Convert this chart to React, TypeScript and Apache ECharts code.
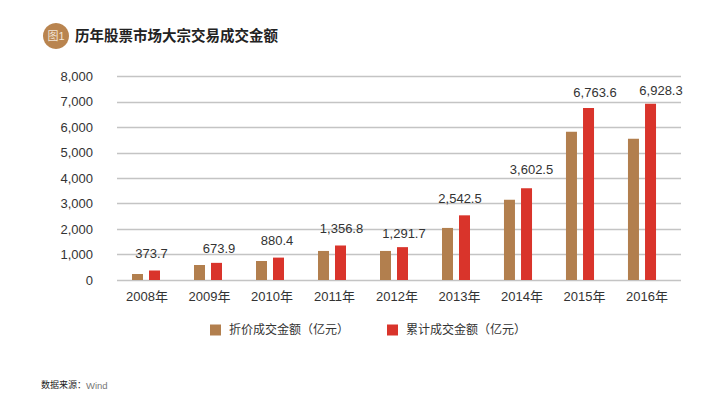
import React, { useEffect, useRef } from "react";
import * as echarts from "echarts";

const categories = ["2008年", "2009年", "2010年", "2011年", "2012年", "2013年", "2014年", "2015年", "2016年"];
const discountNames = "折价成交金额（亿元）";
const totalNames = "累计成交金额（亿元）";
const discountValues = [236, 590, 748, 1142, 1142, 2047, 3150, 5827, 5551];
const totalValues = [373.7, 673.9, 880.4, 1356.8, 1291.7, 2542.5, 3602.5, 6763.6, 6928.3];
const labelShifts = [[-3, -5], [2.5, -2.5], [-1.5, -6], [1, -5], [1.5, -2.5], [-4.5, -5], [5, -7], [6.5, -3.5], [10.5, -2]];

const FONT = "'Liberation Sans', 'Noto Sans CJK SC', sans-serif";
const TEXT = "#333333";
const fmt = (v: number) => v.toLocaleString("en-US", { maximumFractionDigits: 1 });

const hiddenAxis = { show: false };
const valueScale = { type: "value", min: 0, max: 8000, interval: 1000 };

export default function App() {
  const ref = useRef<HTMLDivElement>(null);
  useEffect(() => {
    const chart = echarts.init(ref.current!, undefined, { renderer: "svg" });
    chart.setOption({
      animation: false,
      backgroundColor: "#ffffff",
      textStyle: { fontFamily: FONT },
      grid: [
        { left: 117, top: 76.5, width: 564, height: 203.5 },
        { left: 115, top: 76.5, width: 558, height: 203.5 },
        { left: 115.75, top: 76.5, width: 562.5, height: 203.5 },
      ],
      xAxis: [
        { type: "category", gridIndex: 0, data: categories, ...hiddenAxis },
        { type: "category", gridIndex: 1, data: categories, ...hiddenAxis },
        {
          type: "category",
          gridIndex: 2,
          data: categories,
          axisLine: { show: false },
          axisTick: { show: false },
          axisLabel: { color: TEXT, fontSize: 13, fontFamily: FONT, margin: 10, interval: 0 },
        },
      ],
      yAxis: [
        {
          ...valueScale,
          gridIndex: 0,
          axisLine: { show: false },
          axisTick: { show: false },
          axisLabel: { color: TEXT, fontSize: 13, fontFamily: FONT, margin: 24, formatter: (v: number) => fmt(v) },
          splitLine: { show: true, lineStyle: { color: "#c4c4c4", width: 1.4 } },
        },
        { ...valueScale, gridIndex: 1, ...hiddenAxis },
        { ...valueScale, gridIndex: 2, ...hiddenAxis },
      ],
      legend: {
        left: 210,
        top: 324,
        icon: "rect",
        itemWidth: 11,
        itemHeight: 11,
        itemGap: 38,
        padding: 0,
        textStyle: { color: TEXT, fontSize: 12, fontFamily: FONT, padding: [0, 0, 0, 3] },
        data: [discountNames, totalNames],
      },
      series: [
        {
          name: discountNames,
          type: "bar",
          xAxisIndex: 1,
          yAxisIndex: 1,
          barWidth: 11,
          barGap: "55%",
          itemStyle: { color: "#b27f4e" },
          data: discountValues,
        },
        {
          name: totalNames,
          type: "bar",
          xAxisIndex: 1,
          yAxisIndex: 1,
          barWidth: 11,
          barGap: "55%",
          itemStyle: { color: "#d9342b" },
          data: totalValues.map((value, i) => ({
            value,
            label: {
              show: true,
              position: "top",
              offset: labelShifts[i],
              color: TEXT,
              fontSize: 13,
              fontFamily: FONT,
              formatter: fmt(value),
            },
          })),
        },
      ],
      graphic: [
        { type: "circle", shape: { cx: 56, cy: 36, r: 13 }, style: { fill: "#b9844f" } },
        {
          type: "text",
          x: 56,
          y: 36,
          style: { text: "图1", fill: "#f3e6d8", fontSize: 11, fontFamily: FONT, align: "center", verticalAlign: "middle" },
        },
        {
          type: "text",
          x: 75,
          y: 36,
          style: {
            text: "历年股票市场大宗交易成交金额",
            fill: "#222222",
            fontSize: 14.5,
            fontWeight: "bold",
            fontFamily: FONT,
            verticalAlign: "middle",
          },
        },
        {
          type: "text",
          x: 41,
          y: 385,
          style: {
            text: "{a|数据来源：}{b|Wind}",
            fontFamily: FONT,
            verticalAlign: "middle",
            rich: {
              a: { fill: "#222222", fontSize: 9, fontFamily: FONT },
              b: { fill: "#777777", fontSize: 9.5, fontFamily: FONT },
            },
          },
        },
      ],
    });
    return () => chart.dispose();
  }, []);
  return <div ref={ref} style={{ position: "absolute", left: 0, top: 0, width: 713, height: 406 }} />;
}
